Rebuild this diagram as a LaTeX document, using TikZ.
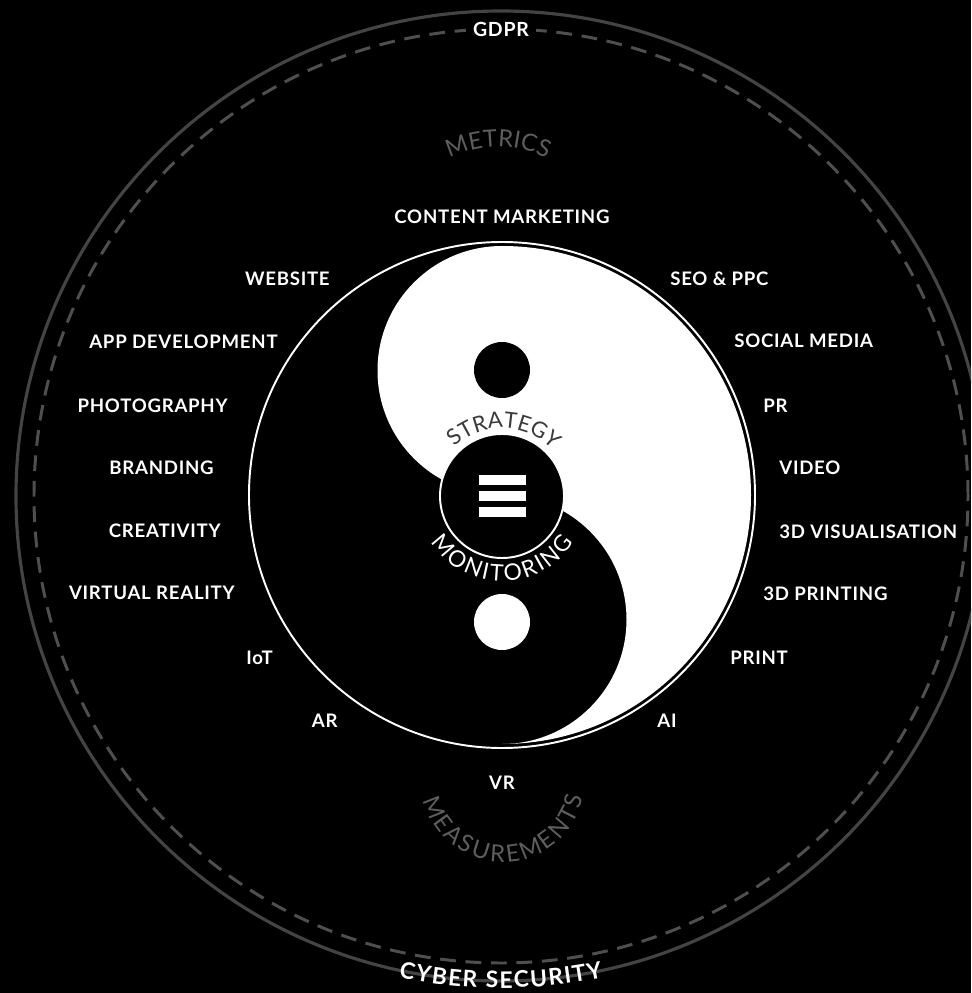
\documentclass[tikz,border=0pt]{standalone}
\usepackage{fontspec}
\setmainfont{Lato}
\newfontfamily\lblfont{Lato}[LetterSpace=4]
\usepackage{xcolor}
\usepackage{tikz}
\usetikzlibrary{decorations.text}
\definecolor{ringgray}{HTML}{444444}
\definecolor{dashgray}{HTML}{4F4F4F}
\definecolor{softgray}{HTML}{5E5E5E}
\definecolor{inkgray}{HTML}{3A3A3A}

\begin{document}
\begin{tikzpicture}[x=0.02cm, y=0.02cm,
  lbl/.style={text=white, font=\lblfont\bfseries\fontsize{10.6}{12}\selectfont, inner sep=0pt},
  lleft/.style={lbl, anchor=east},
  lright/.style={lbl, anchor=west}]
  % background and outer rings
  \useasboundingbox (-501,-497) rectangle (470,496);
  \fill[black] (-501,-497) rectangle (470,496);
  \clip (-501,-497) rectangle (470,496);
  \draw[ringgray, line width=1.8pt] (0,0) circle[radius=485];
  \draw[dashgray, line width=1.7pt, dash pattern=on 9pt off 5.5pt] (0,0) circle[radius=467];

  % yin yang
  \draw[white, line width=1.1pt] (1,1) circle[radius=253];
  \fill[white] (1,250) arc[start angle=90, end angle=-90, radius=249]
    arc[start angle=-90, end angle=90, radius=124.5]
    arc[start angle=-90, end angle=-270, radius=124.5] -- cycle;
  \fill[black] (1,126) circle[radius=28];
  \fill[white] (1,-126) circle[radius=28];
  \draw[white, line width=1.1pt, fill=black] (1,0) circle[radius=62];
  \fill[white] (-22,11) rectangle (25,21);
  \fill[white] (-22,-5) rectangle (25,5);
  \fill[white] (-22,-21) rectangle (25,-11);

  % curved texts
  \path[decorate, decoration={text along path, text align={fit to path},
    text={|\fontsize{12.5}{14}\selectfont\color{inkgray}|STRATEGY}}]
    (1,0) ++(134:68) arc[start angle=134, end angle=46, radius=68];
  \path[decorate, decoration={text along path, text align={fit to path},
    text={|\fontsize{13}{15}\selectfont\color{white}|MONITORING}}]
    (1,0) ++(213:85) arc[start angle=213, end angle=327, radius=85];
  \path[decorate, decoration={text along path, text align={fit to path},
    text={|\fontsize{13.5}{15}\selectfont\color{softgray}|METRICS}}]
    (-3,238) ++(116:111) arc[start angle=116, end angle=64, radius=111];
  \path[decorate, decoration={text along path, text align={fit to path},
    text={|\fontsize{13.5}{15}\selectfont\color{softgray}|MEASUREMENTS}}]
    (2,-284) ++(194:82) arc[start angle=194, end angle=348, radius=82];
  \path[decorate, decoration={text along path, text align={fit to path},
    text={|\bfseries\fontsize{13}{15}\selectfont\color{white}|CYBER SECURITY}}]
    (0,0) ++(258:492) arc[start angle=258, end angle=282, radius=492];

  % labels
  \node[lbl, fill=black, inner xsep=4pt, inner ysep=3pt, font=\lblfont\bfseries\fontsize{11.1}{13}\selectfont] (gdpr) at (0,467) {GDPR};
  \node[lbl] (cm) at (1,279.5) {CONTENT MARKETING};
  \node[lleft] (web) at (-171,217) {WEBSITE};
  \node[lright] (seo) at (169,217) {SEO \& PPC};
  \node[lleft] (app) at (-223,154) {APP DEVELOPMENT};
  \node[lright] (social) at (233,155) {SOCIAL MEDIA};
  \node[lleft] (photo) at (-273,90.5) {PHOTOGRAPHY};
  \node[lright] (pr) at (262,90) {PR};
  \node[lleft] (brand) at (-287,28) {BRANDING};
  \node[lright] (video) at (278,28) {VIDEO};
  \node[lleft] (creat) at (-280,-35) {CREATIVITY};
  \node[lright] (visu) at (278,-36) {3D VISUALISATION};
  \node[lleft] (vreal) at (-266,-97) {VIRTUAL REALITY};
  \node[lright] (print3d) at (262,-98) {3D PRINTING};
  \node[lleft] (iot) at (-228,-162) {IoT};
  \node[lright] (print) at (229,-161.5) {PRINT};
  \node[lleft] (ar) at (-163,-225) {AR};
  \node[lright] (ai) at (156,-225) {AI};
  \node[lbl] (vr) at (1,-287) {VR};
\end{tikzpicture}
\end{document}
